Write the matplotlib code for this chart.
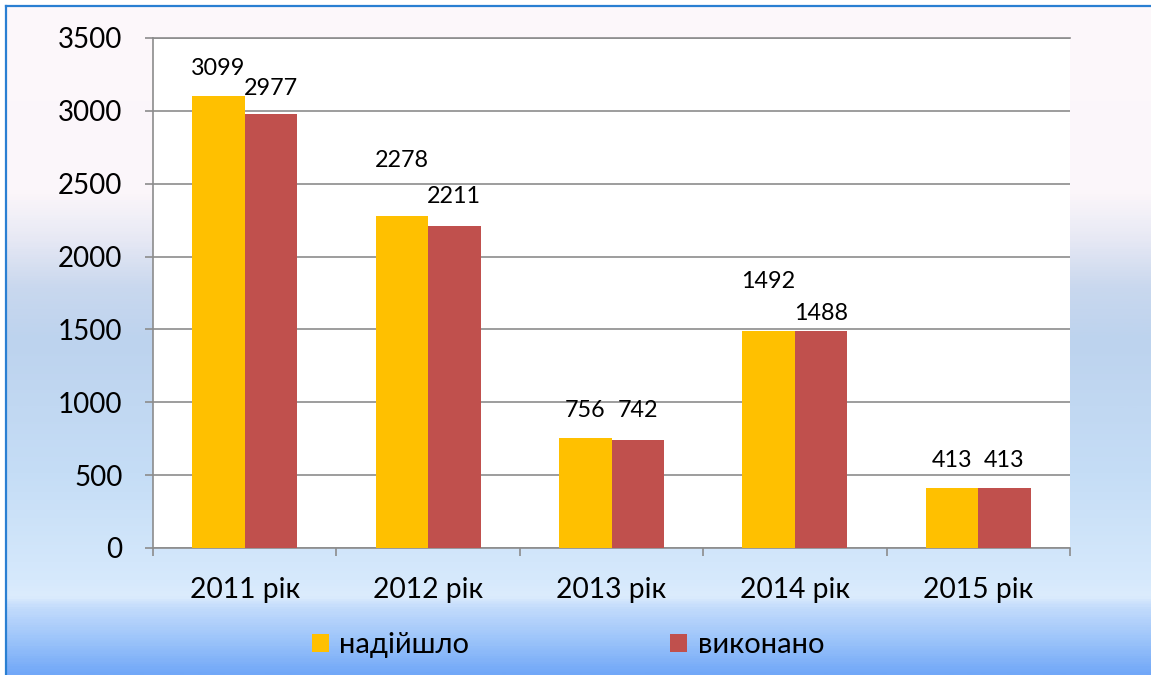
import matplotlib
matplotlib.use("Agg")
import matplotlib.pyplot as plt
import numpy as np
from matplotlib.colors import LinearSegmentedColormap

plt.rcParams['font.family'] = ['Lato', 'DejaVu Sans']

categories = ["2011 рік", "2012 рік", "2013 рік", "2014 рік", "2015 рік"]
series_names = ["надійшло", "виконано"]
received = [3099, 2278, 756, 1492, 413]
done = [2977, 2211, 742, 1488, 413]
yticks = [0, 500, 1000, 1500, 2000, 2500, 3000, 3500]

# label offsets (pixels above bar top) - style
off_received = [28, 56, 27, 49, 27]
off_done = [26, 29, 29, 18, 27]

W, H = 1151, 675
fig = plt.figure(figsize=(W / 100, H / 100), dpi=100)
fig.patch.set_facecolor('white')

# gradient background
bg = fig.add_axes([6 / W, 0, 1 - 6 / W, 1 - 6 / H], zorder=-10)
stops = [
    (0.0, '#fdf8fb'), (0.28, '#fbf6fa'), (0.35, '#e6e8f4'), (0.42, '#c9d8ee'),
    (0.50, '#bdd3ee'), (0.70, '#c5ddf6'), (0.86, '#d6e9fc'), (0.885, '#dcecfd'),
    (0.90, '#c4dcfc'), (0.95, '#9cc4fa'), (1.0, '#72a8f8'),
]
cmap = LinearSegmentedColormap.from_list('bg', stops)
grad = np.linspace(0, 1, 600).reshape(-1, 1)
bg.imshow(grad, aspect='auto', cmap=cmap, extent=[0, 1, 0, 1], origin='upper')
bg.set_xlim(0, 1)
bg.set_ylim(0, 1)
bg.set_xticks([])
bg.set_yticks([])
for s in ['right', 'bottom']:
    bg.spines[s].set_visible(False)
for s in ['left', 'top']:
    bg.spines[s].set_color('#2a7fd2')
    bg.spines[s].set_linewidth(1.6)

ax = fig.add_axes([153 / W, 1 - 548 / H, 917 / W, 510 / H], zorder=1)
ax.set_facecolor('white')

x = np.arange(len(categories))
bw = 0.286
b1 = ax.bar(x - bw / 2, received, bw, color='#FFC000', label=series_names[0], zorder=3)
b2 = ax.bar(x + bw / 2, done, bw, color='#C0504D', label=series_names[1], zorder=3)

for bars, offs in ((b1, off_received), (b2, off_done)):
    for rect, off in zip(bars, offs):
        h = rect.get_height()
        ax.annotate(f"{int(h)}", (rect.get_x() + rect.get_width() / 2, h),
                    xytext=(0, off * 0.72), textcoords='offset points',
                    ha='center', va='center', fontsize=16.8, color='black', zorder=5)

ax.set_xlim(-0.5, len(categories) - 0.5)
ax.set_ylim(0, 3500)
ax.set_yticks(yticks)
ax.set_yticklabels([str(v) for v in yticks], fontsize=20)
ax.yaxis.grid(True, color='#8c8c8c', linewidth=1.2, zorder=0)
ax.set_axisbelow(True)

ax.set_xticks(np.arange(-0.5, len(categories)), labels=[''] * (len(categories) + 1))
ax.set_xticks(x, labels=categories, minor=True, fontsize=20.3)
ax.tick_params(axis='x', which='major', length=6, width=1.2, color='#8c8c8c', direction='out')
ax.tick_params(axis='x', which='minor', length=0, pad=21)
ax.tick_params(axis='y', length=6, width=1.2, color='#8c8c8c', pad=16)

ax.spines['right'].set_visible(False)
for s in ['left', 'bottom', 'top']:
    ax.spines[s].set_color('#8c8c8c')
    ax.spines[s].set_linewidth(1.2)

fig.legend(handles=[b1, b2], labels=series_names, loc='center',
           bbox_to_anchor=(568 / W, 1 - 645 / H), ncol=2, frameon=False,
           fontsize=21, handlelength=0.58, handleheight=0.58,
           handletextpad=0.35, columnspacing=6.9, borderpad=0)

fig.savefig('out.png', dpi=100)
